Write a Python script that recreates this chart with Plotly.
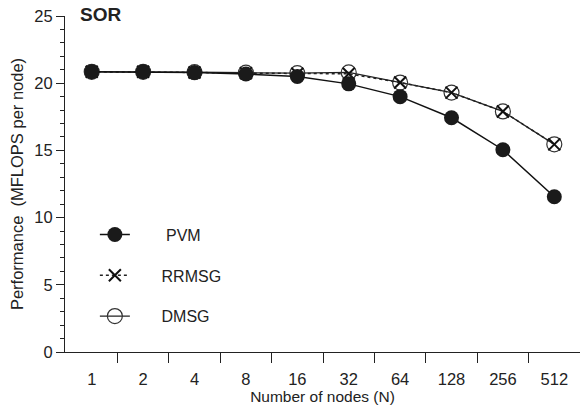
import plotly.graph_objects as go

nodes = ["1", "2", "4", "8", "16", "32", "64", "128", "256", "512"]
pvm = [20.85, 20.85, 20.8, 20.68, 20.5, 19.95, 19.0, 17.43, 15.05, 11.55]
rrmsg = [20.85, 20.85, 20.8, 20.75, 20.7, 20.7, 20.05, 19.3, 17.9, 15.45]
dmsg = [20.85, 20.85, 20.82, 20.78, 20.75, 20.8, 20.05, 19.3, 17.9, 15.45]

idx = list(range(len(nodes)))
FONT = "Liberation Sans, Arial, sans-serif"

fig = go.Figure()
fig.add_trace(go.Scatter(
    x=idx, y=dmsg, name="      DMSG", mode="lines+markers", legendrank=3, legendgroup="c",
    line=dict(color="#222", width=1.3),
    marker=dict(symbol="circle-open", size=15, color="#333", line=dict(width=1.2)),
))
fig.add_trace(go.Scatter(
    x=idx, y=rrmsg, name="      RRMSG", mode="lines+markers", legendrank=2, legendgroup="b",
    line=dict(color="#222", width=1.5, dash="dot"),
    marker=dict(symbol="x-thin", size=12, color="#111", line=dict(width=2, color="#111")),
))
fig.add_trace(go.Scatter(
    x=idx, y=pvm, name="       PVM", mode="lines+markers", legendrank=1, legendgroup="a",
    line=dict(color="#111", width=1.5),
    marker=dict(symbol="circle", size=15, color="#1a1a1a"),
))

fig.update_layout(
    width=580, height=413,
    margin=dict(l=65, r=0, t=16, b=61),
    paper_bgcolor="white", plot_bgcolor="white",
    font=dict(family=FONT, size=16.5, color="#222"),
    showlegend=True,
    legend=dict(x=0.058, y=0.40, xanchor="left", yanchor="top",
                font=dict(size=16), tracegroupgap=17, bgcolor="rgba(0,0,0,0)"),
    xaxis=dict(
        range=[-0.52, 9.5], tickmode="array", tickvals=idx, ticktext=nodes,
        ticks="outside", ticklen=12, tickcolor="rgba(0,0,0,0)",
        showline=True, linecolor="#222", linewidth=1.2, showgrid=False, zeroline=False,
        minor=dict(tickmode="array", tickvals=[i - 0.5 for i in range(1, 11)],
                   ticks="outside", ticklen=10, tickcolor="#222", tickwidth=1, showgrid=False),
        title=dict(text="Number of nodes (N)", standoff=3, font=dict(size=15.5)),
    ),
    yaxis=dict(
        range=[0, 25], tickmode="array", tickvals=[0, 5, 10, 15, 20, 25],
        ticks="outside", ticklen=8, tickcolor="#222", tickwidth=1,
        showline=True, linecolor="#222", linewidth=1.2, showgrid=False, zeroline=False,
        minor=dict(dtick=1, tick0=0, ticks="outside", ticklen=4, tickcolor="#222", showgrid=False),
        title=dict(text="Performance  (MFLOPS per node)", standoff=6, font=dict(size=16.5)),
    ),
    annotations=[dict(text="<b>SOR</b>", x=0.025, y=1.005, xref="paper", yref="paper",
                      xanchor="left", yanchor="middle", showarrow=False,
                      font=dict(size=19, color="#222"))],
)

fig.write_html("out.html", config={"displayModeBar": False},
               post_script="document.body.style.margin='0';document.body.style.overflow='hidden';")
